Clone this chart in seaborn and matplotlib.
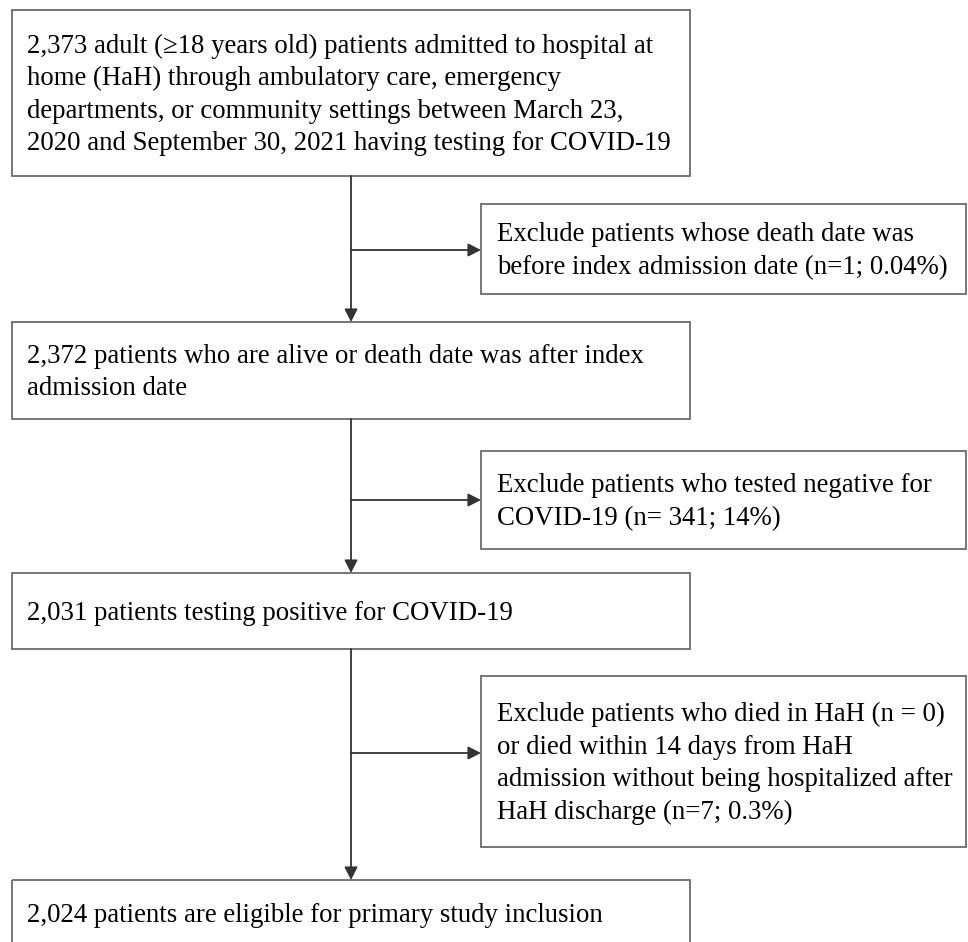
import matplotlib
matplotlib.use("Agg")
import matplotlib.pyplot as plt
import seaborn as sns
from matplotlib.patches import Rectangle

sns.set_theme(style="white")
plt.rcParams['font.family'] = ['Liberation Serif', 'DejaVu Serif']

# ---- data ----
main_steps = [
    "2,373 adult (\u226518 years old) patients admitted to hospital at\n"
    "home (HaH) through ambulatory care, emergency\n"
    "departments, or community settings between March 23,\n"
    "2020 and September 30, 2021 having testing for COVID-19",
    "2,372 patients who are alive or death date was after index\n"
    "admission date",
    "2,031 patients testing positive for COVID-19",
    "2,024 patients are eligible for primary study inclusion",
]
exclusions = [
    "Exclude patients whose death date was\n"
    "before index admission date (n=1; 0.04%)",
    "Exclude patients who tested negative for\n"
    "COVID-19 (n= 341; 14%)",
    "Exclude patients who died in HaH (n = 0)\n"
    "or died within 14 days from HaH\n"
    "admission without being hospitalized after\n"
    "HaH discharge (n=7; 0.3%)",
]

# ---- layout (pixels) ----
W, H = 968, 942
main_x = (12, 690)
main_y = [(10, 176), (322, 419), (573, 649), (880, 960)]
excl_x = (481, 966)
excl_y = [(204, 294), (451, 549), (676, 847)]
arrow_y = [250, 500, 753]
stem_x = 351
edge = "#6b6b6b"
line_c = "#333333"
fs = 19.3
ls = 1.39

fig = plt.figure(figsize=(W / 100, H / 100), dpi=100)
ax = fig.add_axes([0, 0, 1, 1])
ax.set_xlim(0, W)
ax.set_ylim(H, 0)
ax.axis("off")

for i, txt in enumerate(main_steps):
    y0, y1 = main_y[i]
    ax.add_patch(Rectangle((main_x[0], y0), main_x[1] - main_x[0], y1 - y0,
                           fill=False, edgecolor=edge, linewidth=1.3, zorder=2))
    yc = (y0 + y1) / 2 + 2 if i < 3 else 915
    ax.text(27, yc, txt, ha="left", va="center", fontsize=fs,
            linespacing=ls, color="black")

for i, txt in enumerate(exclusions):
    y0, y1 = excl_y[i]
    ax.add_patch(Rectangle((excl_x[0], y0), excl_x[1] - excl_x[0], y1 - y0,
                           fill=False, edgecolor=edge, linewidth=1.3, zorder=2))
    ax.text(497, (y0 + y1) / 2 + 2, txt, ha="left", va="center", fontsize=fs,
            linespacing=ls, color="black")

arrow_kw = dict(arrowstyle="-|>,head_length=0.55,head_width=0.28",
                color=line_c, lw=1.3, shrinkA=0, shrinkB=0, mutation_scale=14)
for i in range(3):
    ax.annotate("", xy=(stem_x, main_y[i + 1][0]), xytext=(stem_x, main_y[i][1]),
                arrowprops=arrow_kw)
    ax.annotate("", xy=(excl_x[0], arrow_y[i]), xytext=(stem_x, arrow_y[i]),
                arrowprops=arrow_kw)

fig.savefig("out.png", dpi=100, facecolor="white")
